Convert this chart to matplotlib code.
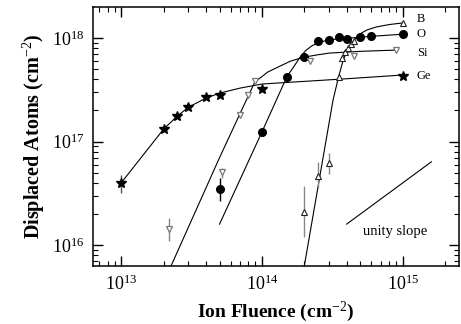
import numpy as np
import matplotlib
matplotlib.use("Agg")
import matplotlib.pyplot as plt

plt.rcParams["font.family"] = "serif"
plt.rcParams["font.serif"] = ["Liberation Serif", "DejaVu Serif"]
plt.rcParams["mathtext.fontset"] = "custom"
plt.rcParams["mathtext.rm"] = "Liberation Serif"
plt.rcParams["mathtext.it"] = "Liberation Serif:italic"

# measured points (fluence in cm^-2, displaced atoms in cm^-2)
ge_x = [1e13, 2e13, 2.5e13, 3e13, 4e13, 5e13, 1e14, 1e15]
ge_y = [4.0e16, 1.32e17, 1.76e17, 2.15e17, 2.7e17, 2.8e17, 3.2e17, 4.3e17]
ge_err_lo = [0.8e16, 0, 0, 0, 0, 0, 0, 0]
ge_err_hi = [0.8e16, 0, 0, 0, 0, 0, 0, 0]

o_x = [5e13, 1e14, 1.5e14, 2e14, 2.5e14, 3e14, 3.5e14, 4e14, 5e14, 6e14, 1e15]
o_y = [3.5e16, 1.24e17, 4.2e17, 6.5e17, 9.4e17, 9.6e17, 1.02e18, 9.8e17,
       1.02e18, 1.05e18, 1.09e18]
o_err_lo = [0.8e16, 0, 0, 0, 0, 0, 0, 0, 0, 0, 0]
o_err_hi = [1.0e16, 0, 0, 0, 0, 0, 0, 0, 0, 0, 0]

si_x = [2.2e13, 5.2e13, 7e13, 8e13, 9e13, 2.2e14, 4.5e14, 9e14]
si_y = [1.43e16, 5.1e16, 1.8e17, 2.8e17, 3.85e17, 6.0e17, 6.7e17, 7.7e17]
si_err_lo = [0.33e16, 0.6e16, 0, 0, 0, 0, 0, 0]
si_err_hi = [0.4e16, 0.5e16, 0, 0, 0, 0, 0, 0]

b_x = [2e14, 2.5e14, 3e14, 3.5e14, 3.7e14, 3.9e14, 4.1e14, 4.3e14, 4.5e14, 1e15]
b_y = [2.1e16, 4.7e16, 6.2e16, 4.2e17, 6.4e17, 7.3e17, 8.0e17, 8.8e17, 9.4e17, 1.4e18]
b_err_lo = [0.9e16, 1.1e16, 1.35e16, 0, 0, 0, 0, 0, 0, 0]
b_err_hi = [1.6e16, 1.6e16, 1.5e16, 0, 0, 0, 0, 0, 0, 0]

# fitted curves
ge_fit_x = [1e13, 2e13, 2.5e13, 3e13, 4e13, 5e13, 7e13, 1e14, 1.5e14, 2.2e14,
            4e14, 6e14, 1e15]
ge_fit_y = [4.0e16, 1.32e17, 1.76e17, 2.15e17, 2.63e17, 2.94e17, 3.29e17, 3.6e17,
            3.73e17, 3.85e17, 4.05e17, 4.2e17, 4.4e17]
si_fit_x = [2.26e13, 4.9e13, 6.9e13, 8.9e13, 1.1e14, 1.34e14, 1.6e14, 2e14,
            2.5e14, 3e14, 5e14, 9e14]
si_fit_y = [6.3e15, 6.6e16, 1.8e17, 3.76e17, 4.7e17, 5.35e17, 6.0e17, 6.55e17,
            6.9e17, 7.16e17, 7.45e17, 7.66e17]
o_fit_x = [5e13, 1e14, 1.5e14, 1.7e14, 1.86e14, 2.05e14, 2.26e14, 2.5e14,
           2.8e14, 3.3e14, 4.2e14, 6e14, 1e15]
o_fit_y = [1.6e16, 1.24e17, 4.2e17, 5.4e17, 6.5e17, 7.6e17, 8.4e17, 9.0e17,
           9.4e17, 9.75e17, 1.0e18, 1.04e18, 1.09e18]
b_fit_x = [2e14, 3.2e14, 3.5e14, 3.75e14, 3.95e14, 4.15e14, 4.35e14, 4.6e14,
           5.1e14, 5.6e14, 6.5e14, 8e14, 1e15]
b_fit_y = [6.3e15, 2.52e17, 4.2e17, 5.9e17, 7.2e17, 8.1e17, 8.95e17, 9.9e17,
           1.12e18, 1.2e18, 1.28e18, 1.35e18, 1.4e18]

unity_x = [4e14, 1.6e15]
unity_y = [1.6e16, 6.4e16]

labels = ["B", "O", "Si", "Ge"]
label_y = [1.53e18, 1.09e18, 7.2e17, 4.3e17]

fig = plt.figure(figsize=(4.61, 3.24), dpi=100)
ax = fig.add_axes([93 / 461, 58 / 324, 366 / 461, 259 / 324])

for fx, fy in [(ge_fit_x, ge_fit_y), (si_fit_x, si_fit_y),
               (o_fit_x, o_fit_y), (b_fit_x, b_fit_y)]:
    ax.plot(fx, fy, color="black", lw=0.8, zorder=2)
ax.plot(unity_x, unity_y, color="black", lw=0.8)

ax.errorbar(ge_x, ge_y, yerr=[ge_err_lo, ge_err_hi], fmt="*", ms=7,
            color="black", ecolor="#555555", elinewidth=1, capsize=0, zorder=3)
ax.errorbar(o_x, o_y, yerr=[o_err_lo, o_err_hi], fmt="o", ms=5.5,
            color="black", ecolor="black", elinewidth=1, capsize=0, zorder=3)
ax.errorbar(si_x, si_y, yerr=[si_err_lo, si_err_hi], fmt="v", ms=5,
            mfc="white", mec="#777777", mew=0.9, ecolor="#888888",
            elinewidth=1, capsize=0, zorder=3)
ax.errorbar(b_x, b_y, yerr=[b_err_lo, b_err_hi], fmt="^", ms=5,
            mfc="white", mec="#222222", mew=0.8, ecolor="#888888",
            elinewidth=1, capsize=0, zorder=3)

for lab, ly in zip(labels, label_y):
    ax.text(1.26e15, ly, lab, fontsize=9, ha="left", va="center")
ax.text(8.8e14, 1.37e16, "unity slope", fontsize=10.5, ha="center", va="center")

ax.set_xscale("log")
ax.set_yscale("log")
ax.set_xlim(10 ** 12.80, 10 ** 15.40)
ax.set_ylim(10 ** 15.80, 10 ** 18.30)
ax.set_xticks([1e13, 1e14, 1e15])
ax.set_yticks([1e16, 1e17, 1e18])
ax.tick_params(which="both", direction="in", top=True, right=True)
ax.tick_params(which="major", length=7, width=1, labelsize=13, pad=6)
ax.tick_params(which="minor", length=3.5, width=0.8)
for sp in ax.spines.values():
    sp.set_linewidth(1.1)

ax.set_xlabel("Ion Fluence (cm$^{-2}$)", fontsize=14, fontweight="bold", labelpad=4)
ax.set_ylabel("Displaced Atoms (cm$^{-2}$)", fontsize=14.5, fontweight="bold", labelpad=4)

fig.savefig("out.png", dpi=100)
